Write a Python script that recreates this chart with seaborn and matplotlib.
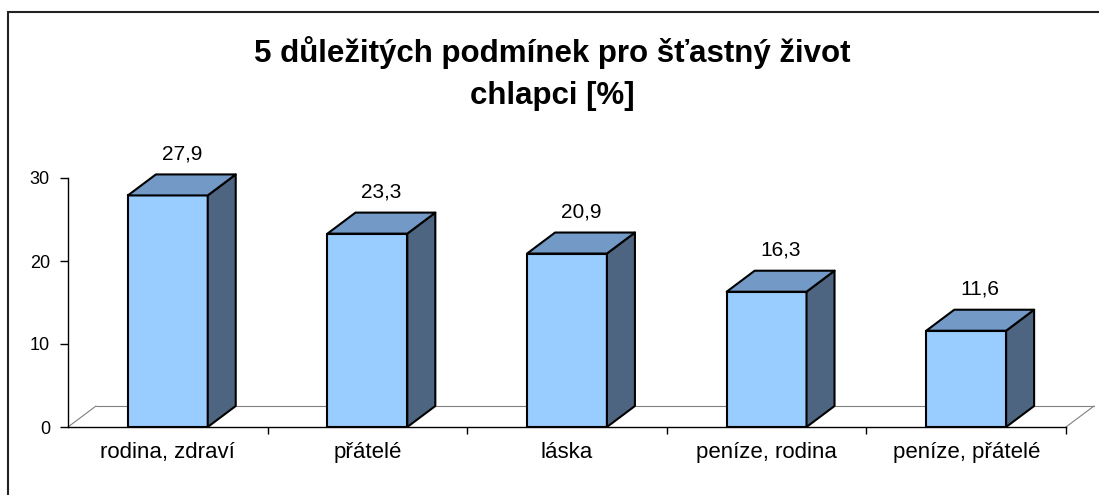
import matplotlib
matplotlib.use("Agg")
import matplotlib.pyplot as plt
import seaborn as sns
import pandas as pd
from matplotlib.patches import Polygon, Rectangle

# data
categories = ["rodina, zdraví", "přátelé", "láska", "peníze, rodina", "peníze, přátelé"]
values = [27.9, 23.3, 20.9, 16.3, 11.6]
value_labels = ["27,9", "23,3", "20,9", "16,3", "11,6"]
y_ticks = [0, 10, 20, 30]
title_lines = ["5 důležitých podmínek pro šťastný život", "chlapci [%]"]

sns.set_style("white")
plt.rcParams["font.family"] = ["Liberation Sans", "DejaVu Sans"]
plt.rcParams["text.color"] = "black"
plt.rcParams["xtick.color"] = "black"
plt.rcParams["ytick.color"] = "black"

W, H = 1099, 495
fig = plt.figure(figsize=(W / 100, H / 100), dpi=100)
ax = fig.add_axes([68 / W, (H - 427) / H, 998 / W, 249 / H])

df = pd.DataFrame({"kategorie": categories, "hodnota": values})
sns.barplot(data=df, x="kategorie", y="hodnota", color="#99CCFF", saturation=1,
            edgecolor="black", linewidth=1.5, width=0.4, ax=ax, zorder=3)

ax.set_xlim(-0.5, len(categories) - 0.5)
ax.set_ylim(0, 30)

# 3d depth offset in data units (28 px right, 21 px up)
dx = 28 / 998 * len(categories)
dy = 21 / 249 * 30

# floor
x_lo, x_hi = -0.5, len(categories) - 0.5
floor_kw = dict(color="#808080", lw=0.8, clip_on=False, zorder=1)
ax.plot([x_lo, x_lo + dx], [0, dy], **floor_kw)
ax.plot([x_lo + dx, x_hi + dx], [dy, dy], **floor_kw)
ax.plot([x_hi, x_hi + dx], [0, dy], **floor_kw)

# top and side faces of every bar
bars = list(ax.patches)
for p, lab in zip(bars, value_labels):
    x0, w, h = p.get_x(), p.get_width(), p.get_height()
    top = Polygon([(x0, h), (x0 + w, h), (x0 + w + dx, h + dy), (x0 + dx, h + dy)],
                  closed=True, facecolor="#7399C6", edgecolor="black", lw=1.5,
                  clip_on=False, zorder=3, joinstyle="round")
    side = Polygon([(x0 + w, 0), (x0 + w + dx, dy), (x0 + w + dx, h + dy), (x0 + w, h)],
                   closed=True, facecolor="#4E6581", edgecolor="black", lw=1.5,
                   clip_on=False, zorder=3, joinstyle="round")
    ax.add_patch(side)
    ax.add_patch(top)
    ax.annotate(lab, (x0 + w / 2 + dx / 2, h + dy), xytext=(0, 11),
                textcoords="offset points", ha="center", va="baseline",
                fontsize=15, annotation_clip=False)

# axes styling
for s in ["top", "right"]:
    ax.spines[s].set_visible(False)
ax.spines["left"].set_color("black")
ax.spines["bottom"].set_color("black")
ax.spines["left"].set_linewidth(1)
ax.spines["bottom"].set_linewidth(1)
ax.spines["bottom"].set_zorder(4)

ax.set_yticks(y_ticks)
ax.tick_params(axis="y", direction="out", length=6, width=1, color="black",
               labelsize=13, pad=7, left=True)
ax.set_xticks([i + 0.5 for i in range(len(categories))], minor=True)
ax.tick_params(axis="x", which="minor", direction="out", length=5, width=1,
               color="black", bottom=True)
ax.tick_params(axis="x", which="major", length=0, labelsize=16, pad=11)
ax.set_xlabel("")
ax.set_ylabel("")

# title
fig.text(552 / W, 1 - 62 / H, title_lines[0], ha="center", va="baseline",
         fontsize=22.5, fontweight="bold")
fig.text(552 / W, 1 - 104 / H, title_lines[1], ha="center", va="baseline",
         fontsize=22.5, fontweight="bold")

# chart frame
fig.patches.append(Rectangle((8 / W, -0.1), 1.2, 1 - 12 / H + 0.1,
                             transform=fig.transFigure, fill=False,
                             edgecolor="#222222", lw=1.5))

fig.savefig("out.png", dpi=100)
